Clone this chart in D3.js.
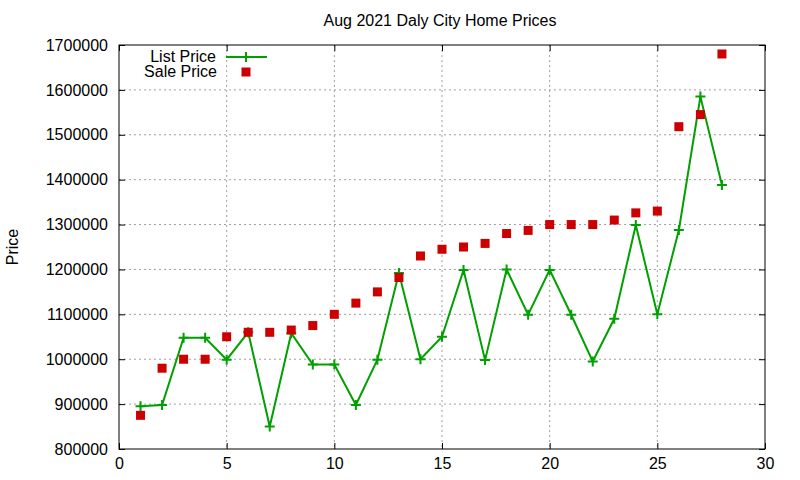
<!DOCTYPE html>
<html lang="en">
<head>
    <meta charset="UTF-8">
    <title>Aug 2021 Daly City Home Prices</title>
    <script src="https://cdnjs.cloudflare.com/ajax/libs/d3/7.8.5/d3.min.js"></script>
    <style>
        body{margin:0; background:#fff;}
        svg{display:block; font-family:"Liberation Sans", Arial, sans-serif;}
        .grid line{stroke:#a0a0a0; stroke-dasharray:2,3;}
        .axis text{font-size:16px; fill:#000; font-family:"Liberation Sans", Arial, sans-serif;}
    </style>
</head>
<body>
    <svg id="chart" width="800" height="480"></svg>
    <script>
        // data
        var homes = [1,2,3,4,5,6,7,8,9,10,11,12,13,14,15,16,17,18,19,20,21,22,23,24,25,26,27,28];
        var listPrice = [895000,898000,1048000,1048000,999000,1060000,850000,1058000,988000,988000,
                         898000,999000,1192000,1000000,1050000,1199000,998000,1200000,1099000,1199000,
                         1099000,995000,1090000,1299000,1100000,1288000,1585000,1388000];
        var salePrice = [875000,980000,1000000,1000000,1050000,1060000,1060000,1065000,1075000,1100000,
                         1125000,1150000,1182000,1230000,1245000,1250000,1258000,1280000,1287000,1300000,
                         1300000,1300000,1310000,1326000,1330000,1518000,1545000,1680000];
        var xTicks = [0,5,10,15,20,25,30];
        var yTicks = [800000,900000,1000000,1100000,1200000,1300000,1400000,1500000,1600000,1700000];

        var plotL = 119, plotR = 765, plotT = 45, plotB = 449;
        var svg = d3.select("#chart");

        var xScale = d3.scaleLinear().domain([0,30]).range([plotL,plotR]);
        var yScale = d3.scaleLinear().domain([800000,1700000]).range([plotB,plotT]);

        // grid
        var grid = svg.append("g").attr("class","grid");
        grid.selectAll(".gx").data(xTicks.slice(1,-1)).enter().append("line")
            .attr("x1",function(d){return xScale(d);}).attr("x2",function(d){return xScale(d);})
            .attr("y1",plotT).attr("y2",plotB);
        grid.selectAll(".gy").data(yTicks.slice(1,-1)).enter().append("line")
            .attr("y1",function(d){return yScale(d);}).attr("y2",function(d){return yScale(d);})
            .attr("x1",plotL).attr("x2",plotR);

        // axes (ticks point inward, mirrored like gnuplot)
        var fmt = function(d){return String(d);};
        svg.append("g").attr("class","axis")
           .attr("transform","translate(0,"+plotB+")")
           .call(d3.axisBottom(xScale).tickValues(xTicks).tickSize(-6).tickPadding(9).tickFormat(fmt))
           .call(function(g){g.select(".domain").remove();});
        svg.append("g").attr("class","axis")
           .attr("transform","translate(0,"+plotT+")")
           .call(d3.axisTop(xScale).tickValues(xTicks).tickSize(-6).tickFormat(""))
           .call(function(g){g.select(".domain").remove();});
        svg.append("g").attr("class","axis")
           .attr("transform","translate("+plotL+",0)")
           .call(d3.axisLeft(yScale).tickValues(yTicks).tickSize(-6).tickPadding(11).tickFormat(fmt))
           .call(function(g){g.select(".domain").remove();});
        svg.append("g").attr("class","axis")
           .attr("transform","translate("+plotR+",0)")
           .call(d3.axisRight(yScale).tickValues(yTicks).tickSize(-6).tickFormat(""))
           .call(function(g){g.select(".domain").remove();});
        svg.selectAll(".axis .tick line").attr("stroke","#000");

        svg.append("rect").attr("x",plotL).attr("y",plotT)
           .attr("width",plotR-plotL).attr("height",plotB-plotT)
           .attr("fill","none").attr("stroke","#000").attr("stroke-width",1);

        // title and y label
        svg.append("text").attr("x",440).attr("y",26).attr("text-anchor","middle")
           .style("font-size","16px").text("Aug 2021 Daly City Home Prices");
        svg.append("text").attr("transform","translate(18,247) rotate(-90)")
           .attr("text-anchor","middle").style("font-size","16px").text("Price");

        var green = "#00a000", red = "#cc0000";

        // list price line
        var line = d3.line()
            .x(function(d,i){return xScale(homes[i]);})
            .y(function(d){return yScale(d);});
        svg.append("path").datum(listPrice)
           .attr("d",line).attr("fill","none").attr("stroke",green).attr("stroke-width",2);

        svg.selectAll(".lp").data(listPrice).enter().append("path")
           .attr("class","lp")
           .attr("d","M-5,0H5M0,-5V5")
           .attr("transform",function(d,i){return "translate("+xScale(homes[i])+","+yScale(d)+")";})
           .attr("stroke",green).attr("stroke-width",2);

        // sale price points
        svg.selectAll(".sp").data(salePrice).enter().append("rect")
           .attr("class","sp")
           .attr("x",function(d,i){return xScale(homes[i])-4.5;})
           .attr("y",function(d){return yScale(d)-4.5;})
           .attr("width",9).attr("height",9).attr("fill",red);

        // legend
        var lg = svg.append("g").style("font-size","16px");
        lg.append("text").attr("x",216).attr("y",62).attr("text-anchor","end").text("List Price");
        lg.append("line").attr("x1",226).attr("x2",267).attr("y1",57).attr("y2",57)
          .attr("stroke",green).attr("stroke-width",2);
        lg.append("path").attr("d","M-5,0H5M0,-5V5").attr("transform","translate(246,57)")
          .attr("stroke",green).attr("stroke-width",2);
        lg.append("text").attr("x",217).attr("y",77).attr("text-anchor","end").text("Sale Price");
        lg.append("rect").attr("x",241.5).attr("y",67.5).attr("width",9).attr("height",9).attr("fill",red);
    </script>
</body>
</html>
